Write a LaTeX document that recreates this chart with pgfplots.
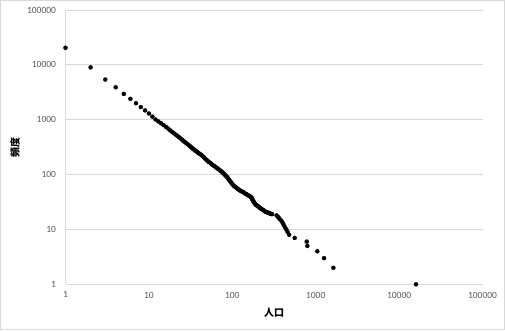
\documentclass[border=0pt]{standalone}
\usepackage{pgfplots}
\pgfplotsset{compat=1.18}
\usepackage{fontspec}
\setmainfont{Carlito}
\newfontfamily\cjk{Noto Sans CJK JP}
\definecolor{gridc}{HTML}{D9D9D9}
\definecolor{tickc}{HTML}{595959}
\begin{document}
\begin{tikzpicture}
\useasboundingbox (0pt,0pt) rectangle (505pt,330pt);
\draw[gridc, line width=0.75pt] (0.5pt,0.5pt) rectangle (504.5pt,329.5pt);
\begin{axis}[
  at={(65.5pt,45.7pt)}, anchor=south west,
  scale only axis, width=417pt, height=274.3pt,
  xmode=log, ymode=log,
  xmin=1, xmax=100000, ymin=1, ymax=100000,
  axis x line*=bottom, axis y line*=left,
  axis line style={gridc, line width=0.75pt},
  ymajorgrids, grid style={gridc, line width=0.75pt},
  major tick length=0pt, minor tick length=0pt,
  xtick={1,10,100,1000,10000,100000},
  xticklabels={1,10,100,1000,10000,100000},
  ytick={1,10,100,1000,10000,100000},
  yticklabels={1,10,100,1000,10000,100000},
  minor xtick={}, minor ytick={},
  tick label style={font=\fontsize{9.5}{11}\selectfont, text=tickc},
  xticklabel style={yshift=-4pt},
  yticklabel style={xshift=-6pt},
  xlabel={\cjk\bfseries 人口},
  ylabel={\cjk\bfseries 頻度},
  label style={font=\fontsize{10}{12}\selectfont, text=black},
  xlabel style={at={(axis description cs:0.5,-0.1035)}, anchor=center},
  ylabel style={at={(axis description cs:-0.1211,0.5)}, anchor=center},
  clip=false,
]
\addplot[only marks, mark=*, mark size=2pt, black] table {
x y
1 20500
2 9000
3 5400
4 3900
5 2950
6 2400
7 2000
8 1700
9 1480
10 1300
11 1140
12 1010
13 930
14 860
15 800
16 740
17 690
18 640
19 600
20 565
21 535
22 505
23 480
24 455
25 432
26 410
27 392
28 375
29 360
30 345
31 331
32 318
33 305
34 292
35 283
36 275
37 266
38 258
39 250
40 243
41 237
43 225
44 217
46 205
47 196
49 186
50 180
52 172
53 167
55 162
56 156
58 150
60 145
62 140
64 135
66 130
68 126
70 122
72 118
74 114
76 110
78 106
80 102
82 98
84 94
86 91
88 87
90 83
92 79
94 76
96 73
98 70
100 67
103 64
105 62
108 60
111 58
114 56
117 54.5
120 53
123 51.5
127 50
131 49
135 48
139 46.5
143 45
147 44
151 43
155 42
160 41
164 40
167 39
170 38
172 37
174 35.5
176 34
178 33
180 32
183 31
185 30
188 29
192 28
196 27.5
200 27
205 26.2
210 25.5
215 24.7
220 24
225 23.5
230 23
235 22.5
240 22
245 21.5
250 21
256 20.7
262 20.5
268 20.2
275 20
281 19.6
288 19.3
294 19.1
300 19
340 18
352 17
365 16
378 15
392 14
405 13
415 12
428 11
445 10
460 9
480 8
560 7
780 6
795 5
1045 4
1260 3
1630 2
15950 1
};
\end{axis}
\end{tikzpicture}
\end{document}
